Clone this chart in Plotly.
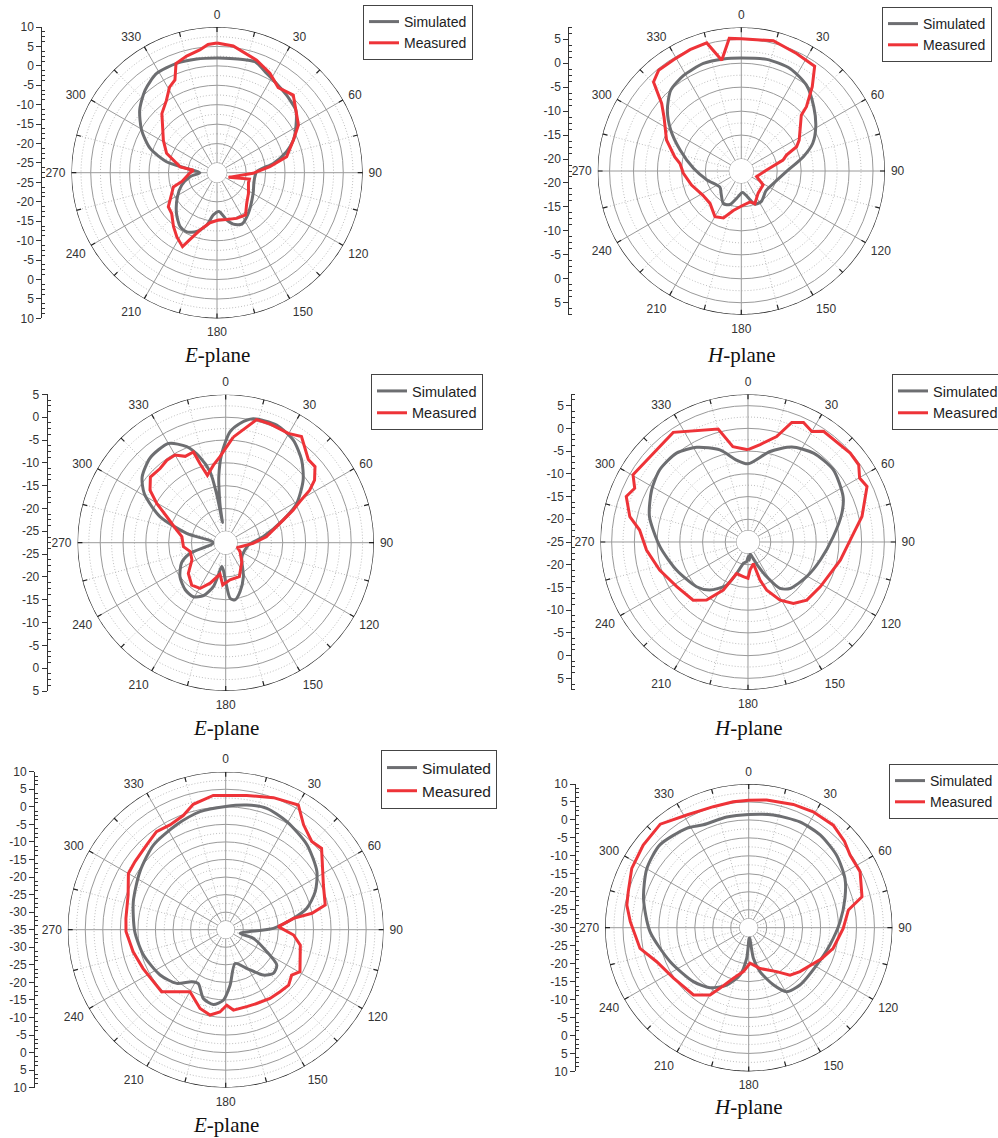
import plotly.graph_objects as go

W, H = 998, 1138

# ---------------- radiation patterns: angle (deg) and gain (dB) ----------------
# Row 1
e1_sim_theta = [0, 6.5, 12.8, 18.9, 26.6, 33.7, 41.9, 45.1, 51.6, 59.8, 66.8, 73.2, 80.6, 88.6, 103.7, 119.6,
                142.4, 154.3, 162.4, 168.5, 177, 185, 191, 199, 207, 214.4, 224.8, 238.8, 250.8, 261.6, 270,
                278, 282.3, 290, 299.5, 309, 319, 328.7, 339.7, 349.9]
e1_sim_db = [2.0, 2.1, 2.4, 2.7, 1.1, 0.1, -0.7, -1.0, -1.6, -4.0, -6.1, -8.8, -12.8, -17.3, -17.7, -16.8,
             -14.3, -12.8, -13.6, -15.1, -17.5, -16.6, -13.8, -11.5, -10.4, -10.7, -12.7, -15.6, -17.9, -20.5,
             -23.1, -19.6, -14.2, -9.2, -5.2, -1.9, 0.7, 2.4, 2.5, 2.2]
e1_meas_theta = [0, 7.3, 19.4, 28, 35.7, 44.5, 59.6, 66.8, 77, 83.5, 91, 112, 101, 107.7, 123.4, 136, 145.9,
                 156.7, 168.3, 178.4, 188, 196.5, 202, 205, 212, 219, 228, 235, 245.5, 252, 256, 270, 276, 279,
                 291, 301, 317, 325, 331, 335.6, 339.4, 345.4, 352, 356]
e1_meas_db = [5.9, 5.4, 3.2, 1.5, -0.5, 0.5, -3.2, -6.1, -9.1, -13.8, -18.2, -24.3, -19.0, -19.0, -17.8, -16.5,
              -14.4, -14.7, -15.2, -15.3, -14.5, -12.1, -9.0, -6.5, -8.0, -9.7, -11.8, -12.2, -14.7, -15.7,
              -18.2, -20.6, -21.4, -17.9, -13.6, -11.4, -6.7, -4.8, -2.3, -1.3, 2.5, 3.5, 4.4, 5.6]

h1_sim_theta = [0, 12.8, 25.4, 37.2, 48.5, 59.2, 68.8, 77, 90.8, 111, 128.6, 146.5, 157.7, 163, 176.5, 189.7,
                198.8, 208.6, 222, 232.6, 255.4, 273.2, 288.9, 300, 309.5, 318.9, 328.9, 340.6, 350.9]
h1_sim_db = [1.1, 1.4, 1.2, 0.0, -2.3, -4.4, -6.5, -9.2, -13.1, -15.3, -15.9, -14.9, -15.0, -16.2, -18.0, -16.7,
             -15.1, -14.7, -16.2, -16.9, -15.1, -12.5, -9.0, -5.5, -2.5, -0.1, 0.8, 1.3, 1.2]
h1_meas_theta = [0, 13.8, 25.2, 35, 40.1, 45.4, 47.1, 61.9, 66.3, 70.6, 75.3, 87.7, 110, 122.5, 142.7, 157.5,
                 164, 179.5, 191.4, 200.8, 210, 224, 238, 254.3, 267.7, 277, 282, 292.5, 305, 310.3, 315.4,
                 320.6, 328.7, 337.1, 344.9, 350, 354.8]
h1_meas_db = [5.1, 5.5, 4.6, 4.2, 0.5, -3.4, -5.4, -8.8, -9.9, -12.5, -13.5, -17.2, -19.1, -17.1, -16.7, -15.1,
              -15.8, -15.2, -14.1, -12.0, -11.5, -13.1, -13.0, -11.7, -10.4, -9.6, -8.3, -5.6, -2.8, -0.7, 3.6,
              4.7, 4.7, 5.0, 5.2, 1.0, 5.3]

# Row 2
e2_sim_theta = [2.2, 6.8, 12.5, 23.4, 33.4, 42.6, 51.1, 61, 68.5, 81, 96, 131, 152.5, 163.7, 170.8, 175.5,
                179.5, 185, 189.5, 192.8, 195.7, 202.7, 210.9, 220.7, 233.3, 245.6, 253.3, 270, 283.5, 291.6,
                301, 308.2, 318.4, 330, 337.9, 343.3, 347.6, 349.4, 350.3, 350.8, 351.4, 352.2, 354, 357.4]
e2_sim_db = [-3.2, -1.2, 0.3, 0.6, -0.6, -2.9, -5.7, -9.7, -14.0, -19.2, -22.5, -22.8, -19.1, -16.3, -14.8,
             -15.3, -18.6, -21.5, -22.2, -20.3, -17.5, -14.9, -13.7, -13.9, -15.0, -16.9, -19.3, -24.8, -18.7,
             -12.0, -6.7, -4.2, -2.6, -2.4, -4.8, -8.0, -11.6, -16.5, -21.0, -23.0, -19.5, -17.4, -13.0, -8.0]
e2_meas_theta = [4.1, 14.1, 20.4, 29.8, 35.5, 44.8, 49.6, 54.9, 58, 61, 64.2, 70.4, 81.7, 91.4, 112, 122, 140,
                 158, 173.4, 184, 190.3, 201, 209.3, 218.8, 230.6, 243, 255.8, 264.6, 277.8, 284.5, 293.8,
                 299.7, 304.8, 311.1, 318.5, 324.5, 330, 334.9, 340.4, 342, 344.8, 351, 356.2]
e2_meas_db = [-4.3, 0.3, 0.3, 0.1, 1.1, -1.8, -1.8, -3.7, -5.8, -8.9, -11.1, -14.9, -18.5, -21.5, -24.7, -23.8,
              -22.0, -19.5, -19.3, -18.2, -20.5, -18.0, -16.0, -15.6, -16.9, -19.2, -19.5, -18.2, -17.8, -16.4,
              -13.4, -10.1, -7.3, -5.6, -5.8, -5.3, -5.3, -6.6, -6.4, -9.3, -12.2, -10.3, -8.6]

h2_sim_theta = [0, 13.7, 24.8, 36.4, 49.8, 64.4, 73, 86.4, 104, 120.6, 137.8, 145.4, 151.7, 158, 163, 170,
                176, 179, 183.9, 192, 199.9, 206.4, 218.4, 229, 248.6, 267, 284.5, 298.4, 309.3, 321.2, 331.5,
                343, 352]
h2_sim_db = [-7.8, -4.5, -2.0, -0.7, -0.4, -1.8, -3.4, -6.2, -8.6, -10.0, -11.2, -12.6, -16.3, -19.5, -21.3,
             -22.3, -21.0, -21.8, -20.7, -20.2, -17.6, -14.4, -11.5, -10.0, -8.1, -5.6, -2.6, -0.9, 0.1, 0.1,
             -1.3, -3.8, -6.8]
h2_meas_theta = [0, 7.1, 15.2, 20.1, 24.9, 30, 34.3, 49, 55.1, 60.2, 65, 77.4, 85.3, 101.1, 121.8, 134.7, 143.5,
                 151.1, 158.7, 162.5, 166, 175.9, 180, 187.7, 199.9, 207.2, 215.5, 223.3, 237.9, 252.4, 265.5,
                 276.3, 282.1, 290.5, 295.4, 300.3, 317.3, 325.7, 345.2, 351]
h2_meas_db = [-4.7, -3.4, -0.95, 3.0, 4.0, 3.1, 4.5, 4.8, 4.7, 3.3, 3.9, 0.7, -1.7, -4.3, -6.3, -6.8, -8.2,
              -10.4, -13.6, -16.2, -20.1, -18.8, -17.0, -17.3, -17.6, -13.1, -9.3, -7.4, -6.5, -4.6, -2.6,
              -1.0, 1.6, 3.6, 2.6, 4.3, 3.6, 4.2, 0.7, -3.75]

# Row 3
e3_sim_theta = [0, 9.6, 18.7, 29.5, 43.7, 57.5, 67, 75.2, 80.5, 88.4, 104, 107.4, 118.2, 124.7, 132.5, 140.3,
                151.5, 164.5, 175.5, 181.9, 189.4, 198, 207, 213.2, 222.4, 235.4, 252.9, 268.7, 286.9, 304.1,
                319.5, 334.9, 347.7]
e3_sim_db = [0.1, 1.0, 1.5, 0.4, -1.5, -4.2, -7.3, -11.1, -15.4, -21.4, -30.8, -26.7, -21.7, -17.3, -16.6,
             -18.2, -22.5, -25.0, -19.1, -14.9, -13.4, -14.4, -17.8, -17.3, -14.3, -12.3, -10.5, -9.1, -7.5,
             -5.5, -3.3, -2.0, -0.6]
e3_meas_theta = [0, 8.9, 19.9, 30.2, 36.6, 44.3, 49.7, 65.4, 76.1, 79.2, 80.5, 86.7, 94.5, 101.7, 119.5, 124.5,
                 131.4, 138.8, 147.2, 157.2, 164.7, 174.5, 179.2, 184, 190.4, 198, 209.9, 226, 244.8, 256.6,
                 268.9, 276.5, 289.6, 300, 306.9, 317, 324.8, 332, 339.6, 345.5, 354.7]
e3_meas_db = [3.2, 3.7, 5.0, 6.1, 2.2, 0.1, 0.8, -4.4, -5.8, -10.0, -15.4, -20.0, -15.6, -13.3, -10.7, -12.2,
              -11.1, -11.5, -11.7, -12.2, -12.3, -12.0, -13.5, -11.5, -10.3, -11.4, -14.6, -9.6, -9.0, -7.9,
              -6.6, -6.4, -5.5, -3.0, -2.7, -2.0, -0.8, -1.2, -0.3, 1.9, 3.4]

h3_sim_theta = [0, 12.3, 25.8, 37.6, 50.5, 62.9, 73.1, 86.2, 102, 118.8, 138.2, 149.3, 156.7, 165.6, 171.3,
                176, 183.7, 190.4, 201, 212.8, 225.7, 246.6, 267.7, 285.6, 300.2, 313, 328, 336.2, 348.8]
h3_sim_db = [1.5, 2.1, 2.7, 2.6, 1.7, 0.1, -2.0, -4.5, -6.9, -8.4, -8.6, -9.3, -12.7, -17.4, -21.4, -27.3,
             -21.5, -16.6, -12.9, -10.1, -8.5, -6.2, -2.5, 0.4, 2.8, 3.8, 2.6, 1.3, 1.4]
h3_meas_theta = [0, 8, 19.9, 29.1, 39.5, 48, 54.4, 63.3, 74.7, 79.9, 90.4, 103.7, 112.8, 130.6, 138.9, 147.5,
                 164.4, 177.9, 186.9, 196.8, 205.3, 209.9, 219.4, 236.1, 249.7, 259.2, 272.9, 280.5, 286.7,
                 296.9, 308.1, 319.5, 331.2, 343.7, 353]
h3_meas_db = [5.5, 5.9, 6.5, 6.9, 7.0, 5.9, 4.7, 4.7, 2.7, -1.8, -3.7, -5.8, -7.9, -11.2, -12.5, -15.5, -18.2,
              -20.1, -17.7, -15.3, -11.4, -8.4, -5.8, -4.8, -2.7, 0.8, 3.0, 4.5, 5.0, 6.5, 7.3, 7.9, 5.8, 5.1,
              5.3]

# Gain-scale labels (dB) shown on the left of each chart, outer edge to hole
e1_scale = [10, 5, 0, -5, -10, -15, -20, -25]
h1_scale = [5, 0, -5, -10, -15, -20]
e2_scale = [5, 0, -5, -10, -15, -20, -25]
h2_scale = [5, 0, -5, -10, -15, -20]
e3_scale = [10, 5, 0, -5, -10, -15, -20, -25, -30]
h3_scale = [10, 5, 0, -5, -10, -15, -20, -25]

angle_labels = list(range(0, 360, 30))
series_names = ["Simulated", "Measured"]
plane_titles = ["<i>E</i>-plane", "<i>H</i>-plane"]

SIM_COLOR = "#6d6e71"
MEAS_COLOR = "#ee3338"
GRID = "#9a9a9a"
GRID_MINOR = "#bdbdbd"
RIM = "#222222"
TXT = "#333333"

# layout of each chart: centre (px), outer radius (px), dB at the centre, dB at the rim,
# centre label, left-scale x (px), legend corner (px), legend font, title y (px)
panels = [
    dict(data=(e1_sim_theta, e1_sim_db, e1_meas_theta, e1_meas_db), scale=e1_scale, centre_lbl=None,
         cx=217.0, cy=172.7, R=145.7, c=-27.5, top=10.0, ax=42.3, leg=(363, 5), lfs=14, title=0, ty=355),
    dict(data=(h1_sim_theta, h1_sim_db, h1_meas_theta, h1_meas_db), scale=h1_scale, centre_lbl=None,
         cx=741.3, cy=171.0, R=143.7, c=-22.5, top=7.5, ax=569.3, leg=(882, 7), lfs=14, title=1, ty=355),
    dict(data=(e2_sim_theta, e2_sim_db, e2_meas_theta, e2_meas_db), scale=e2_scale, centre_lbl=None,
         cx=225.7, cy=542.7, R=148.3, c=-27.5, top=5.0, ax=47.7, leg=(371, 374), lfs=14.5, title=0, ty=728),
    dict(data=(h2_sim_theta, h2_sim_db, h2_meas_theta, h2_meas_db), scale=h2_scale, centre_lbl=-25,
         cx=748.0, cy=542.0, R=147.7, c=-25.0, top=7.5, ax=572.3, leg=(892, 374), lfs=14.5, title=1, ty=728),
    dict(data=(e3_sim_theta, e3_sim_db, e3_meas_theta, e3_meas_db), scale=e3_scale, centre_lbl=-35,
         cx=225.7, cy=929.7, R=158.0, c=-35.0, top=10.0, ax=35.0, leg=(381, 750), lfs=15.5, title=0, ty=1125),
    dict(data=(h3_sim_theta, h3_sim_db, h3_meas_theta, h3_meas_db), scale=h3_scale, centre_lbl=-30,
         cx=748.7, cy=927.7, R=143.7, c=-30.0, top=10.0, ax=576.0, leg=(889, 764), lfs=14, title=1, ty=1107),
]

fig = go.Figure()
layout = dict(width=W, height=H, margin=dict(l=0, r=0, t=0, b=0, autoexpand=False),
              paper_bgcolor="white", plot_bgcolor="white", showlegend=True,
              font=dict(family="Arial, Liberation Sans, sans-serif", color=TXT, size=12))
annotations = []


def closed(seq):
    return list(seq) + [seq[0]]


def ring(r_value, step=2):
    ts = list(range(0, 361, step))
    return [r_value] * len(ts), ts


for i, p in enumerate(panels, start=1):
    sfx = "" if i == 1 else str(i)
    polar_id = "polar" + sfx
    rmin = p["c"] + 2.5
    top = p["top"]
    span = top - p["c"]
    db_per_px = span / p["R"]

    # polar frame
    x0, x1 = (p["cx"] - p["R"]) / W, (p["cx"] + p["R"]) / W
    y0, y1 = 1 - (p["cy"] + p["R"]) / H, 1 - (p["cy"] - p["R"]) / H
    majors = [v for v in range(-40, 15, 5) if rmin < v < top]
    layout[polar_id] = dict(
        domain=dict(x=[x0, x1], y=[y0, y1]),
        hole=2.5 / span,
        bgcolor="white",
        radialaxis=dict(range=[rmin, top], tickmode="array", tickvals=majors, showticklabels=False,
                        ticks="", showline=False, showgrid=True, gridcolor=GRID, gridwidth=1),
        # transparent outward ticks only set the gap between rim and angle labels
        angularaxis=dict(direction="clockwise", rotation=90, tickmode="array",
                         tickvals=angle_labels, ticktext=[str(a) for a in angle_labels],
                         ticks="outside", ticklen=3, tickcolor="rgba(0,0,0,0)", showline=False,
                         showgrid=False, tickfont=dict(size=12, color=TXT)),
    )

    # dotted minor rings and spokes, solid major spokes
    ring_r, ring_t = [], []
    for k in range(-20, 8):
        v = k * 2.5
        if k % 2 != 0 and rmin < v < top:
            rr, tt = ring(v)
            ring_r += rr + [None]
            ring_t += tt + [None]
    fig.add_trace(go.Scatterpolar(r=ring_r, theta=ring_t, mode="lines", subplot=polar_id,
                                  line=dict(color=GRID_MINOR, width=1, dash="1px,2px"),
                                  hoverinfo="skip", showlegend=False))
    sp_r, sp_t, mn_r, mn_t, tk_r, tk_t = [], [], [], [], [], []
    for a in range(0, 360, 15):
        if a % 30 == 0:
            sp_r += [rmin, top, None]
            sp_t += [a, a, None]
        else:
            mn_r += [rmin, top, None]
            mn_t += [a, a, None]
        tk_r += [top - 5 * db_per_px, top, None]
        tk_t += [a, a, None]
    fig.add_trace(go.Scatterpolar(r=mn_r, theta=mn_t, mode="lines", subplot=polar_id,
                                  line=dict(color=GRID_MINOR, width=1, dash="1px,2px"),
                                  hoverinfo="skip", showlegend=False))
    fig.add_trace(go.Scatterpolar(r=sp_r, theta=sp_t, mode="lines", subplot=polar_id,
                                  line=dict(color=GRID, width=1), hoverinfo="skip", showlegend=False))

    # hole rim (grey), outer rim (black) with inward ticks
    hr, ht = ring(rmin, 3)
    fig.add_trace(go.Scatterpolar(r=hr, theta=ht, mode="lines", subplot=polar_id, cliponaxis=False,
                                  line=dict(color=GRID, width=1), hoverinfo="skip", showlegend=False))
    orr, ort = ring(top, 1)
    fig.add_trace(go.Scatterpolar(r=orr, theta=ort, mode="lines", subplot=polar_id, cliponaxis=False,
                                  line=dict(color=RIM, width=1.4), hoverinfo="skip", showlegend=False))
    fig.add_trace(go.Scatterpolar(r=tk_r, theta=tk_t, mode="lines", subplot=polar_id, cliponaxis=False,
                                  line=dict(color=RIM, width=1.2), hoverinfo="skip", showlegend=False))

    # pattern curves
    legend_id = "legend" + sfx
    st, sd, mt, md = p["data"]
    for name, th, db, col, shape in ((series_names[0], st, sd, SIM_COLOR, "spline"),
                                     (series_names[1], mt, md, MEAS_COLOR, "linear")):
        fig.add_trace(go.Scatterpolar(r=closed(db), theta=closed(th), mode="lines", name=name,
                                      subplot=polar_id, legend=legend_id,
                                      line=dict(color=col, width=3, shape=shape, smoothing=0.7),
                                      showlegend=True))

    layout[legend_id] = dict(x=p["leg"][0] / W, y=1 - p["leg"][1] / H, xanchor="left", yanchor="top",
                             bgcolor="white", bordercolor="#444", borderwidth=1, itemwidth=30,
                             font=dict(size=p["lfs"], color="#222"), tracegroupgap=0)

    # left gain scale, mirrored about the centre
    xa, ya = "xaxis" + sfx, "yaxis" + sfx
    pos, txt = [], []
    for v in p["scale"]:
        pos += [v - p["c"], -(v - p["c"])]
        txt += [str(v), str(v)]
    if p["centre_lbl"] is not None:
        pos.append(0.0)
        txt.append(str(p["centre_lbl"]))
    minor = []
    n = int(span / 1.25)
    for k in range(-n, n + 1):
        d = k * 1.25
        if all(abs(d - q) > 1e-6 for q in pos) and abs(d) <= span:
            minor.append(d)
    layout[xa] = dict(domain=[p["ax"] / W, p["ax"] / W + 0.002], range=[0, 1], visible=False,
                      anchor="y" + sfx, fixedrange=True)
    layout[ya] = dict(domain=[y0, y1], range=[-span, span], anchor="x" + sfx, side="left",
                      showline=True, linecolor="#333", linewidth=1, showgrid=False, zeroline=False,
                      tickmode="array", tickvals=pos, ticktext=txt, ticks="outside", ticklen=5,
                      tickcolor="#333", tickfont=dict(size=12, color=TXT), fixedrange=True,
                      minor=dict(tickvals=minor, ticks="inside", ticklen=3, tickcolor="#333",
                                 showgrid=False))
    fig.add_trace(go.Scatter(x=[0.5], y=[0], xaxis="x" + sfx, yaxis="y" + sfx, mode="markers",
                             marker=dict(opacity=0), hoverinfo="skip", showlegend=False))

    annotations.append(dict(text=plane_titles[p["title"]], x=p["cx"] / W, y=1 - p["ty"] / H,
                            xref="paper", yref="paper", showarrow=False, xanchor="center",
                            yanchor="middle",
                            font=dict(family="Times New Roman, Liberation Serif, serif", size=21,
                                      color="#111")))

layout["annotations"] = annotations
fig.update_layout(**layout)
fig.write_html("out.html")
